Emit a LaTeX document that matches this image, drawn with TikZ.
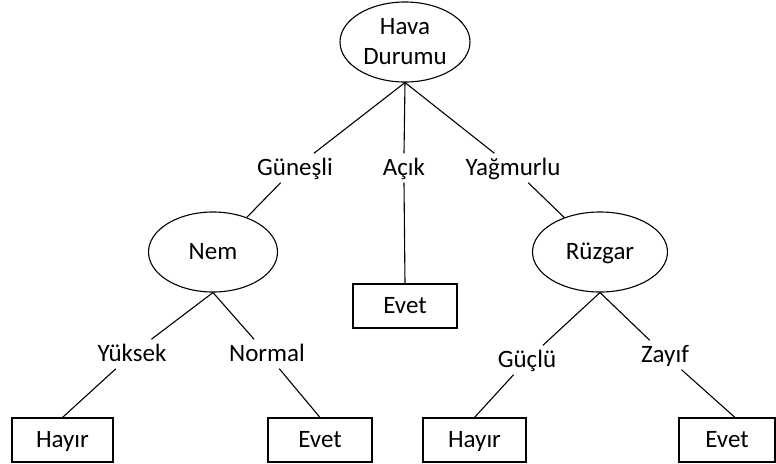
\documentclass[tikz,border=0pt]{standalone}
\usepackage{fontspec}
\setmainfont{Carlito}
\usetikzlibrary{shapes.geometric}
\begin{document}
\begin{tikzpicture}[x=1pt,y=-1pt,
  every node/.style={font=\fontsize{25}{30}\selectfont},
  attr/.style={draw, ellipse, line width=1.1pt, inner sep=0pt, minimum height=80pt},
  leaf/.style={draw, rectangle, line width=1.1pt, minimum height=44pt, inner sep=0pt,
    text height=19pt, text depth=4pt},
  branch/.style={inner sep=3pt, text height=19pt, text depth=4pt},
  edge/.style={line width=1.1pt}]
\useasboundingbox (0,0) rectangle (776,463);

% decision nodes
\node[attr, minimum width=130pt, align=center] (root) at (405,42) {Hava\\Durumu};
\node[attr, minimum width=129pt, text height=19pt, text depth=4pt] (nem) at (213,252) {Nem};
\node[attr, minimum width=135pt, text height=19pt, text depth=4pt] (ruz) at (600,252) {Rüzgar};

% leaves
\node[leaf, minimum width=104pt] (evetA) at (405,306) {Evet};
\node[leaf, minimum width=101pt] (hayirA) at (62.5,440) {Hayır};
\node[leaf, minimum width=104pt] (evetB) at (320,440) {Evet};
\node[leaf, minimum width=103pt] (hayirB) at (474.5,440) {Hayır};
\node[leaf, minimum width=96pt] (evetC) at (727,440) {Evet};

% branch labels
\node[branch] (gun) at (295,168) {Güneşli};
\node[branch] (acik) at (404,168) {Açık};
\node[branch] (yag) at (513,168) {Yağmurlu};
\node[branch] (yuk) at (132,354) {Yüksek};
\node[branch] (nor) at (267,354) {Normal};
\node[branch] (guc) at (527,360) {Güçlü};
\node[branch] (zay) at (665,355) {Zayıf};

% branches
\draw[edge] (root.south) -- (gun);
\draw[edge] (gun) -- (nem);
\draw[edge] (root.south) -- (acik.north);
\draw[edge] (acik.south) -- (evetA.north);
\draw[edge] (root.south) -- (yag);
\draw[edge] (yag) -- (ruz);
\draw[edge] (nem.south) -- (yuk);
\draw[edge] (yuk) -- (hayirA.north);
\draw[edge] (nem.south) -- (nor);
\draw[edge] (nor) -- (evetB.north);
\draw[edge] (ruz.south) -- (guc);
\draw[edge] (guc) -- (hayirB.north);
\draw[edge] (ruz.south) -- (zay);
\draw[edge] (zay) -- ([xshift=8pt]evetC.north);
\end{tikzpicture}
\end{document}
